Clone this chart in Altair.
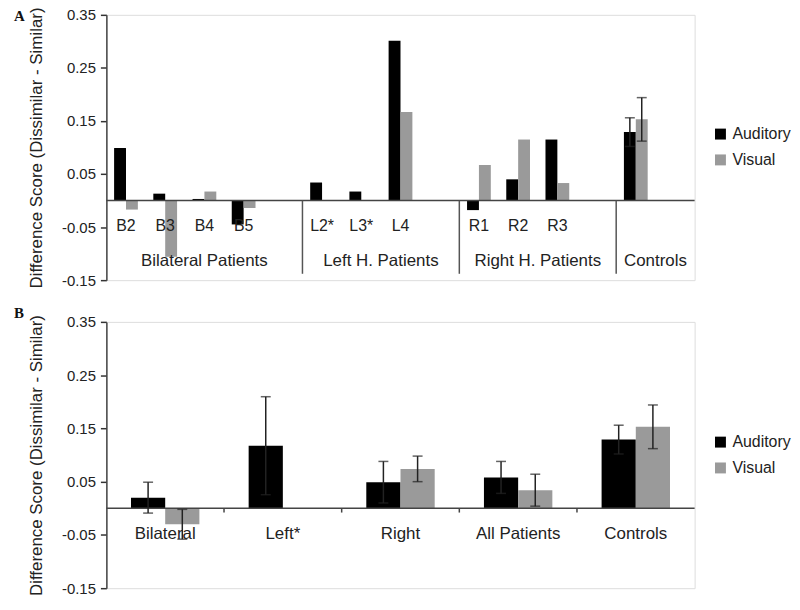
import altair as alt
import pandas as pd

FONT = "Liberation Sans"
series = ["Auditory", "Visual"]
series_colors = ["#000000", "#9a9a9a"]
y_title = "Difference Score (Dissimilar - Similar)"
y_ticks = [0.35, 0.25, 0.15, 0.05, -0.05, -0.15]

# ---------------- Panel A data ----------------
slots_A = ["B2", "B3", "B4", "B5", "sepL", "L2*", "L3*", "L4", "sepR",
           "R1", "R2", "R3", "sepC", "Controls", "end"]
patients_A = ["B2", "B3", "B4", "B5", "L2*", "L3*", "L4", "R1", "R2", "R3", "Controls"]
patient_labels_A = ["B2", "B3", "B4", "B5", "L2*", "L3*", "L4", "R1", "R2", "R3"]
auditory_A = [0.099, 0.013, 0.003, -0.045, 0.034, 0.017, 0.301, -0.018, 0.040, 0.115, 0.129]
visual_A = [-0.017, -0.106, 0.017, -0.014, None, None, 0.167, 0.067, 0.115, 0.033, 0.153]
err_patients_A = ["Controls"]
aud_err_A = [0.027]
vis_err_A = [0.041]
group_center_A = ["Bilateral Patients"]
group_center_anchor_A = ["B4"]
group_edge_A = ["Left H. Patients", "Right H. Patients", "Controls"]
group_edge_anchor_A = ["L3*", "R2", "Controls"]
dividers_A = ["sepL", "sepR", "sepC"]

# ---------------- Panel B data ----------------
groups_B = ["Bilateral", "Left*", "Right", "All Patients", "Controls"]
auditory_B = [0.020, 0.1175, 0.049, 0.058, 0.129]
aud_err_B = [0.029, 0.092, 0.039, 0.030, 0.027]
visual_B = [-0.030, None, 0.074, 0.034, 0.153]
vis_err_B = [0.028, None, 0.024, 0.030, 0.041]
ticks_B = ["Bilateral", "Left*", "Right", "All Patients"]


def long_bars(cats, aud, vis):
    rows = []
    for c, a, v in zip(cats, aud, vis):
        if a is not None:
            rows.append({"slot": c, "series": "Auditory", "value": a})
        if v is not None:
            rows.append({"slot": c, "series": "Visual", "value": v})
    return pd.DataFrame(rows)


def long_errs(cats, aud, aud_e, vis, vis_e):
    rows = []
    for c, a, ae, v, ve in zip(cats, aud, aud_e, vis, vis_e):
        if a is not None and ae is not None:
            rows.append({"slot": c, "series": "Auditory", "lo": a - ae, "hi": a + ae})
        if v is not None and ve is not None:
            rows.append({"slot": c, "series": "Visual", "lo": v - ve, "hi": v + ve})
    return pd.DataFrame(rows)


yscale = alt.Scale(domain=[-0.15, 0.35], nice=False, zero=False)
yaxis = alt.Axis(
    values=y_ticks,
    labelExpr="datum.value < 0 ? '-' + format(-datum.value, '.2f') : format(datum.value, '.2f')",
    title=y_title, grid=False, labelFont=FONT, labelFontSize=15, labelColor="#222",
    titleFont=FONT, titleFontSize=17, titleFontWeight="normal", titleColor="#222",
    tickSize=6, tickColor="#333", tickWidth=1.5, domainColor="#444", domainWidth=1.5,
    labelPadding=5, titlePadding=16,
)


def panel(letter, letter_y, cats, bars_df, err_df, width, pad_outer, legend_y):
    xscale = alt.Scale(domain=cats, paddingInner=0, paddingOuter=0)
    xoff = alt.XOffset("series:N", scale=alt.Scale(domain=series, paddingInner=0, paddingOuter=pad_outer))
    bars = alt.Chart(bars_df).mark_bar().encode(
        x=alt.X("slot:N", scale=xscale, axis=None, sort=cats),
        xOffset=xoff,
        y=alt.Y("value:Q", scale=yscale, axis=yaxis),
        color=alt.Color("series:N", scale=alt.Scale(domain=series, range=series_colors),
                        legend=alt.Legend(title=None, orient="none", legendX=width + 18,
                                          legendY=legend_y, padding=0, symbolType="square",
                                          symbolSize=121, symbolStrokeWidth=0, labelFont=FONT,
                                          labelFontSize=16, labelColor="#222", labelOffset=4,
                                          rowPadding=10)),
    )
    zero = alt.Chart(pd.DataFrame({"z": [0]})).mark_rule(color="#444", strokeWidth=1.5).encode(
        y=alt.Y("z:Q", scale=yscale, axis=yaxis)
    )
    err = alt.Chart(err_df).mark_rule(color="#222", strokeWidth=1.5).encode(
        x=alt.X("slot:N", axis=None), xOffset=xoff,
        y=alt.Y("lo:Q", scale=yscale, axis=yaxis), y2="hi:Q",
    )
    caps = alt.Chart(err_df).transform_fold(["lo", "hi"], as_=["end", "yv"]).mark_tick(
        color="#222", thickness=1.5, size=10
    ).encode(
        x=alt.X("slot:N", axis=None), xOffset=xoff,
        y=alt.Y("yv:Q", scale=yscale, axis=yaxis),
    )
    let = alt.Chart(pd.DataFrame({"t": [letter]})).mark_text(
        font="Liberation Serif", fontWeight="bold", fontSize=15, align="left",
        baseline="alphabetic", color="#111"
    ).encode(x=alt.value(-93), y=alt.value(letter_y), text="t:N")
    return [bars, zero, err, caps, let]


text_style = dict(font=FONT, fontSize=16, color="#222", baseline="middle", align="center")

# ---- Panel A ----
bars_A = long_bars(patients_A, auditory_A, visual_A)
errs_A = long_errs(err_patients_A, [auditory_A[-1]], aud_err_A, [visual_A[-1]], vis_err_A)
layers_A = panel("A", 6, slots_A, bars_A, errs_A, 592, 0.65, 112)
lab_A = alt.Chart(pd.DataFrame({"slot": patient_labels_A})).mark_text(**text_style).encode(
    x=alt.X("slot:N", axis=None), y=alt.value(213), text="slot:N")
gc_A = alt.Chart(pd.DataFrame({"slot": group_center_anchor_A, "t": group_center_A})).mark_text(
    **{**text_style, "fontSize": 17}).encode(
    x=alt.X("slot:N", axis=None, bandPosition=0.5), y=alt.value(248), text="t:N")
ge_A = alt.Chart(pd.DataFrame({"slot": group_edge_anchor_A, "t": group_edge_A})).mark_text(
    **{**text_style, "fontSize": 17}).encode(
    x=alt.X("slot:N", axis=None, bandPosition=1), y=alt.value(248), text="t:N")
div_A = alt.Chart(pd.DataFrame({"slot": dividers_A})).mark_rule(color="#555", strokeWidth=1.5).encode(
    x=alt.X("slot:N", axis=None, bandPosition=1),
    y=alt.datum(0, scale=yscale, axis=yaxis), y2=alt.datum(-0.138))
chart_A = alt.layer(*layers_A, div_A, lab_A, gc_A, ge_A).properties(width=592, height=267)

# ---- Panel B ----
bars_B = long_bars(groups_B, auditory_B, visual_B)
errs_B = long_errs(groups_B, auditory_B, aud_err_B, visual_B, vis_err_B)
layers_B = panel("B", -4, groups_B, bars_B, errs_B, 592, 0.72, 113)
lab_B = alt.Chart(pd.DataFrame({"slot": groups_B})).mark_text(**{**text_style, "fontSize": 17}).encode(
    x=alt.X("slot:N", axis=None), y=alt.value(213), text="slot:N")
tk_B = alt.Chart(pd.DataFrame({"slot": ticks_B})).mark_rule(color="#444", strokeWidth=1.5).encode(
    x=alt.X("slot:N", axis=None, bandPosition=1),
    y=alt.datum(0, scale=yscale, axis=yaxis), y2=alt.datum(-0.008))
chart_B = alt.layer(*layers_B, tk_B, lab_B).properties(width=592, height=268)

chart = alt.vconcat(chart_A, chart_B, spacing=42, bounds="flush",
                    padding={"left": 5, "top": -4, "right": 0, "bottom": 0}
                    ).resolve_scale(color="independent", x="independent", xOffset="independent"
                    ).resolve_legend(color="independent"
                    ).configure_view(stroke="#444", strokeWidth=1.5
                    ).configure(font=FONT, background="white")

chart.save("out.html", embed_options={"renderer": "svg", "actions": False})
